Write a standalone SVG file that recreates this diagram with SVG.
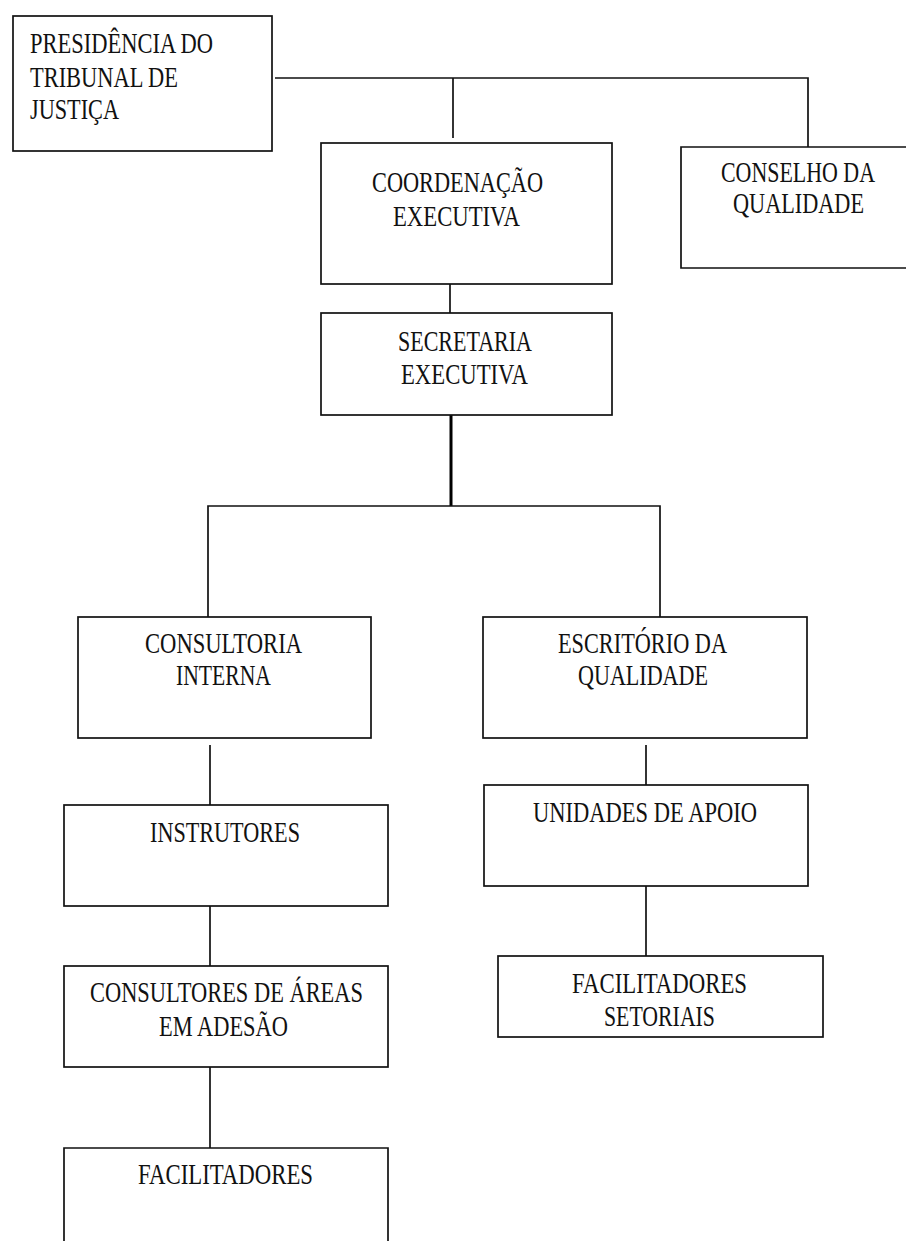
<svg xmlns="http://www.w3.org/2000/svg" width="906" height="1241" viewBox="0 0 906 1241">
<style>
.box{fill:#fff;stroke:#111;stroke-width:1.7}
.ln{fill:none;stroke:#111;stroke-width:1.7}
.thick{fill:none;stroke:#000;stroke-width:3}
text{font-family:"Liberation Serif","Times New Roman",serif;font-size:29px;fill:#111}
</style>
<rect width="906" height="1241" fill="#fff"/>
<g id="connectors">
<polyline class="ln" points="275,78 808,78 808,147"/>
<line class="ln" x1="453" y1="78" x2="453" y2="138"/>
<line class="ln" x1="450" y1="284" x2="450" y2="313"/>
<line class="thick" x1="451" y1="415" x2="451" y2="506"/>
<polyline class="ln" points="208,617 208,506 660,506 660,617"/>
<line class="ln" x1="210" y1="745" x2="210" y2="805"/>
<line class="ln" x1="210" y1="906" x2="210" y2="966"/>
<line class="ln" x1="210" y1="1067" x2="210" y2="1148"/>
<line class="ln" x1="646" y1="745" x2="646" y2="785"/>
<line class="ln" x1="646" y1="886" x2="646" y2="956"/>
</g>
<g id="presidencia">
<rect class="box" x="13" y="16" width="259" height="135"/>
<text x="30" y="53" textLength="183" lengthAdjust="spacingAndGlyphs">PRESIDÊNCIA DO</text>
<text x="30" y="87" textLength="148" lengthAdjust="spacingAndGlyphs">TRIBUNAL DE</text>
<text x="30" y="119" textLength="89" lengthAdjust="spacingAndGlyphs">JUSTIÇA</text>
</g>
<g id="coordenacao">
<rect class="box" x="321" y="143" width="291" height="141"/>
<text x="372" y="192" textLength="171" lengthAdjust="spacingAndGlyphs">COORDENAÇÃO</text>
<text x="393" y="226" textLength="127" lengthAdjust="spacingAndGlyphs">EXECUTIVA</text>
</g>
<g id="conselho">
<path class="box" d="M906,147 H681 V268 H906"/>
<text x="721" y="182" textLength="154" lengthAdjust="spacingAndGlyphs">CONSELHO DA</text>
<text x="733" y="213" textLength="131" lengthAdjust="spacingAndGlyphs">QUALIDADE</text>
</g>
<g id="secretaria">
<rect class="box" x="321" y="313" width="291" height="102"/>
<text x="398" y="351" textLength="134" lengthAdjust="spacingAndGlyphs">SECRETARIA</text>
<text x="401" y="384" textLength="127" lengthAdjust="spacingAndGlyphs">EXECUTIVA</text>
</g>
<g id="consultoria">
<rect class="box" x="78" y="617" width="293" height="121"/>
<text x="145" y="653" textLength="157" lengthAdjust="spacingAndGlyphs">CONSULTORIA</text>
<text x="176" y="685" textLength="95" lengthAdjust="spacingAndGlyphs">INTERNA</text>
</g>
<g id="escritorio">
<rect class="box" x="483" y="617" width="324" height="121"/>
<text x="558" y="653" textLength="169" lengthAdjust="spacingAndGlyphs">ESCRITÓRIO DA</text>
<text x="578" y="685" textLength="130" lengthAdjust="spacingAndGlyphs">QUALIDADE</text>
</g>
<g id="instrutores">
<rect class="box" x="64" y="805" width="324" height="101"/>
<text x="150" y="842" textLength="150" lengthAdjust="spacingAndGlyphs">INSTRUTORES</text>
</g>
<g id="unidades">
<rect class="box" x="484" y="785" width="324" height="101"/>
<text x="533" y="822" textLength="224" lengthAdjust="spacingAndGlyphs">UNIDADES DE APOIO</text>
</g>
<g id="consultores">
<rect class="box" x="64" y="966" width="324" height="101"/>
<text x="90" y="1002" textLength="273" lengthAdjust="spacingAndGlyphs">CONSULTORES DE ÁREAS</text>
<text x="159" y="1036" textLength="129" lengthAdjust="spacingAndGlyphs">EM ADESÃO</text>
</g>
<g id="facilitadores">
<path class="box" d="M64,1241 V1148 H388 V1241"/>
<text x="138" y="1184" textLength="175" lengthAdjust="spacingAndGlyphs">FACILITADORES</text>
</g>
<g id="facilitadores-setoriais">
<rect class="box" x="498" y="956" width="325" height="81"/>
<text x="572" y="993" textLength="175" lengthAdjust="spacingAndGlyphs">FACILITADORES</text>
<text x="604" y="1026" textLength="111" lengthAdjust="spacingAndGlyphs">SETORIAIS</text>
</g>
</svg>
